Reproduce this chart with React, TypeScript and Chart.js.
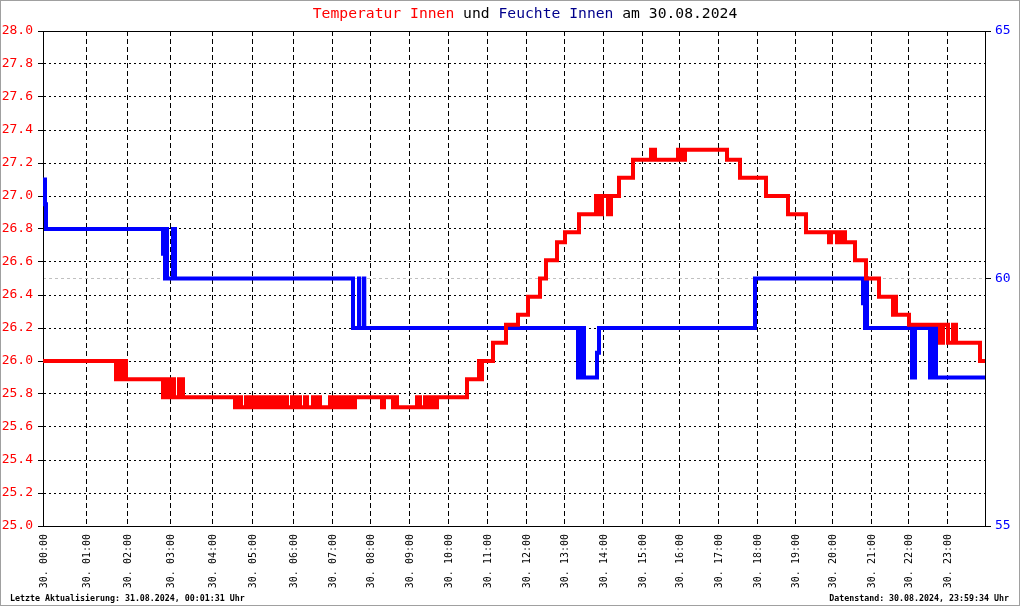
import React, { useEffect, useRef } from "react";
import { Chart, registerables } from "chart.js";

Chart.register(...registerables);

const FONT = '"DejaVu Sans Mono", "Liberation Mono", monospace';

// ---- data ----
// x axis = reading number of the day (one reading ~ every 1.5 min)
const hourStartSample = [0, 43, 84, 127, 169, 209, 250, 289, 327, 366, 405, 444, 483, 521, 560, 599, 636, 675, 714, 752, 789, 828, 865, 904];
const hourLabels = [
  "30. 00:00", "30. 01:00", "30. 02:00", "30. 03:00", "30. 04:00", "30. 05:00",
  "30. 06:00", "30. 07:00", "30. 08:00", "30. 09:00", "30. 10:00", "30. 11:00",
  "30. 12:00", "30. 13:00", "30. 14:00", "30. 15:00", "30. 16:00", "30. 17:00",
  "30. 18:00", "30. 19:00", "30. 20:00", "30. 21:00", "30. 22:00", "30. 23:00",
];
const lastSample = 942;

const tempTicks = [25.0, 25.2, 25.4, 25.6, 25.8, 26.0, 26.2, 26.4, 26.6, 26.8, 27.0, 27.2, 27.4, 27.6, 27.8, 28.0];
const humTicks = [55, 60, 65];

// temperature (°C): reading number where the value changes, and the new value
const tempSample = [
  0,
  73, 75, 77, 79, 81, 82, 83,
  120, 122, 124, 126, 127, 129, 131, 136, 137, 139, 140,
  192, 195, 198, 203, 205, 209, 211, 214, 216, 219, 221, 225, 227, 230, 233, 236, 238, 242, 244, 249, 251, 255, 257, 262, 264, 270, 272, 275, 277, 287, 289, 292, 294, 297, 299, 302, 304, 307, 309, 312,
  339, 341,
  350, 352, 354,
  374, 377, 382, 384, 386, 388, 391, 393, 394,
  424,
  436, 437, 439,
  450, 463, 475, 485, 497, 503, 514, 522, 536,
  553, 554, 556, 557, 559, 565, 568,
  576, 590,
  608, 610, 611, 612,
  635, 637, 639, 640, 642,
  684, 697, 723, 745, 763,
  786, 788, 794, 796, 798, 800, 802,
  812, 823, 836,
  850, 852, 853,
  866,
  897, 900, 905, 910, 913,
  937, 942,
];
const tempValue = [
  26.0,
  25.89, 26.0, 25.89, 26.0, 25.89, 26.0, 25.89,
  25.78, 25.89, 25.78, 25.89, 25.78, 25.89, 25.78, 25.89, 25.78, 25.89, 25.78,
  25.72, 25.78, 25.72, 25.78, 25.72, 25.78, 25.72, 25.78, 25.72, 25.78, 25.72, 25.78, 25.72, 25.78, 25.72, 25.78, 25.72, 25.78, 25.72, 25.78, 25.72, 25.78, 25.72, 25.78, 25.72, 25.78, 25.72, 25.78, 25.72, 25.78, 25.72, 25.78, 25.72, 25.78, 25.72, 25.78, 25.72, 25.78, 25.72, 25.78,
  25.72, 25.78,
  25.72, 25.78, 25.72,
  25.78, 25.72, 25.78, 25.72, 25.78, 25.72, 25.78, 25.72, 25.78,
  25.89,
  26.0, 25.89, 26.0,
  26.11, 26.22, 26.28, 26.39, 26.5, 26.61, 26.72, 26.78, 26.89,
  27.0, 26.89, 27.0, 26.89, 27.0, 26.89, 27.0,
  27.11, 27.22,
  27.28, 27.22, 27.28, 27.22,
  27.28, 27.22, 27.28, 27.22, 27.28,
  27.22, 27.11, 27.0, 26.89, 26.78,
  26.72, 26.78, 26.72, 26.78, 26.72, 26.78, 26.72,
  26.61, 26.5, 26.39,
  26.28, 26.39, 26.28,
  26.22,
  26.11, 26.22, 26.11, 26.22, 26.11,
  26.0, 26.0,
];

// humidity (%): reading number where the value changes, and the new value
const humSample = [
  0, 2, 3,
  120, 122, 123, 124, 130, 132,
  310, 316, 316.3, 321, 321.3,
  535, 537, 538, 540, 541, 554, 556,
  712,
  820, 822, 823, 824,
  869, 872, 887, 889, 890, 892, 893,
  942,
];
const humValue = [
  62.0, 61.5, 61.0,
  60.5, 60.0, 61.0, 60.0, 61.0, 60.0,
  59.0, 60.0, 59.0, 60.0, 59.0,
  58.0, 59.0, 58.0, 59.0, 58.0, 58.5, 59.0,
  60.0,
  59.5, 59.0, 60.0, 59.0,
  58.0, 59.0, 58.0, 59.0, 58.0, 59.0, 58.0,
  58.0,
];

const titleTexts = ["Temperatur Innen", " und ", "Feuchte Innen", " am 30.08.2024"];
const footerLeft = "Letzte Aktualisierung: 31.08.2024, 00:01:31 Uhr";
const footerRight = "Datenstand: 30.08.2024, 23:59:34 Uhr";

const RED = "#ff0000";
const BLUE = "#0000ff";
const titleColors = [RED, "#000000", "#00008b", "#000000"];

const decorPlugin = {
  id: "decor",
  beforeDraw(chart: any) {
    const { ctx, width, height } = chart;
    ctx.save();
    ctx.fillStyle = "#ffffff";
    ctx.fillRect(0, 0, width, height);
    ctx.restore();
  },
  beforeDatasetsDraw(chart: any) {
    const { ctx, chartArea: a } = chart;
    ctx.save();
    ctx.strokeStyle = "#000";
    ctx.lineWidth = 1;
    ctx.beginPath();
    const y = Math.round(a.top) + 0.5;
    ctx.moveTo(a.left, y);
    ctx.lineTo(a.right, y);
    ctx.stroke();
    ctx.restore();
  },
  afterDraw(chart: any) {
    const { ctx, width, height } = chart;
    ctx.save();
    // title
    ctx.font = `14.7px ${FONT}`;
    ctx.textBaseline = "middle";
    ctx.textAlign = "left";
    const widths = titleTexts.map((t) => ctx.measureText(t).width);
    const total = widths.reduce((s, w) => s + w, 0);
    let x = 525 - total / 2;
    titleTexts.forEach((t, i) => {
      ctx.fillStyle = titleColors[i];
      ctx.fillText(t, x, 14);
      x += widths[i];
    });
    // x labels
    const xs = chart.scales.x;
    ctx.font = `10px ${FONT}`;
    ctx.fillStyle = "#000";
    hourStartSample.forEach((s, i) => {
      const px = xs.getPixelForValue(s);
      ctx.save();
      ctx.translate(px + 1, 534);
      ctx.rotate(-Math.PI / 2);
      ctx.textAlign = "right";
      ctx.textBaseline = "middle";
      ctx.fillText(hourLabels[i], 0, 0);
      ctx.restore();
    });
    // footers
    ctx.font = `bold 8.3px ${FONT}`;
    ctx.textBaseline = "middle";
    ctx.textAlign = "left";
    ctx.fillText(footerLeft, 10, 599);
    ctx.textAlign = "right";
    ctx.fillText(footerRight, 1009, 599);
    // outer gray border
    ctx.strokeStyle = "#a0a0a0";
    ctx.lineWidth = 1;
    ctx.strokeRect(0.5, 0.5, width - 1, height - 1);
    ctx.restore();
  },
};

export default function App() {
  const ref = useRef<HTMLCanvasElement | null>(null);

  useEffect(() => {
    if (!ref.current) return;
    const chart = new Chart(ref.current, {
      type: "line",
      data: {
        datasets: [
          {
            label: "Temperatur Innen",
            data: tempSample.map((s, i) => ({ x: s, y: tempValue[i] })),
            borderColor: RED,
            borderWidth: 4,
            stepped: true,
            pointRadius: 0,
            fill: false,
            yAxisID: "y",
            borderJoinStyle: "miter",
            borderCapStyle: "butt",
          },
          {
            label: "Feuchte Innen",
            data: humSample.map((s, i) => ({ x: s, y: humValue[i] })),
            borderColor: BLUE,
            borderWidth: 4,
            stepped: true,
            pointRadius: 0,
            fill: false,
            yAxisID: "y2",
            borderJoinStyle: "miter",
            borderCapStyle: "butt",
          },
        ],
      },
      options: {
        responsive: false,
        animation: false,
        events: [],
        layout: { padding: { top: 31, left: 0, right: 0, bottom: 0 } },
        plugins: {
          legend: { display: false },
          tooltip: { enabled: false },
          title: { display: false },
        },
        scales: {
          x: {
            type: "linear",
            position: "bottom",
            min: 0,
            max: lastSample,
            afterBuildTicks: (scale: any) => {
              scale.ticks = hourStartSample.map((v) => ({ value: v }));
            },
            afterFit: (scale: any) => {
              scale.height = 80;
            },
            ticks: { display: false },
            grid: { color: "#000", lineWidth: 1, drawTicks: false },
            border: { display: true, color: "#000", width: 1, dash: [5, 3] },
          },
          y: {
            type: "linear",
            position: "left",
            min: 25,
            max: 28,
            afterBuildTicks: (scale: any) => {
              scale.ticks = tempTicks.map((v) => ({ value: v }));
            },
            afterFit: (scale: any) => {
              scale.width = 43;
            },
            ticks: {
              color: RED,
              font: { family: FONT, size: 13 },
              padding: 5,
              callback: (v: any) => Number(v).toFixed(1),
            },
            grid: {
              color: "#000",
              lineWidth: 1,
              drawTicks: true,
              tickLength: 5,
              tickColor: "#000",
              tickBorderDash: [],
            },
            border: { display: true, color: "#000", width: 1, dash: [2, 3] },
          },
          y2: {
            type: "linear",
            position: "right",
            min: 55,
            max: 65,
            afterBuildTicks: (scale: any) => {
              scale.ticks = humTicks.map((v) => ({ value: v }));
            },
            afterFit: (scale: any) => {
              scale.width = 35;
            },
            ticks: {
              color: BLUE,
              font: { family: FONT, size: 13 },
              padding: 4,
              callback: (v: any) => String(v),
            },
            grid: {
              color: (c: any) => (c.tick && c.tick.value === 60 ? "#c0c0c0" : "rgba(0,0,0,0)"),
              lineWidth: 1,
              drawTicks: true,
              tickLength: 6,
              tickColor: "#000",
              tickBorderDash: [],
            },
            border: { display: true, color: "#000", width: 1, dash: [3, 3] },
          },
        },
      } as any,
      plugins: [decorPlugin],
    });
    return () => chart.destroy();
  }, []);

  return (
    <div style={{ position: "fixed", left: 0, top: 0, width: 1020, height: 606, background: "#fff" }}>
      <canvas ref={ref} width={1020} height={606} style={{ display: "block" }} />
    </div>
  );
}
